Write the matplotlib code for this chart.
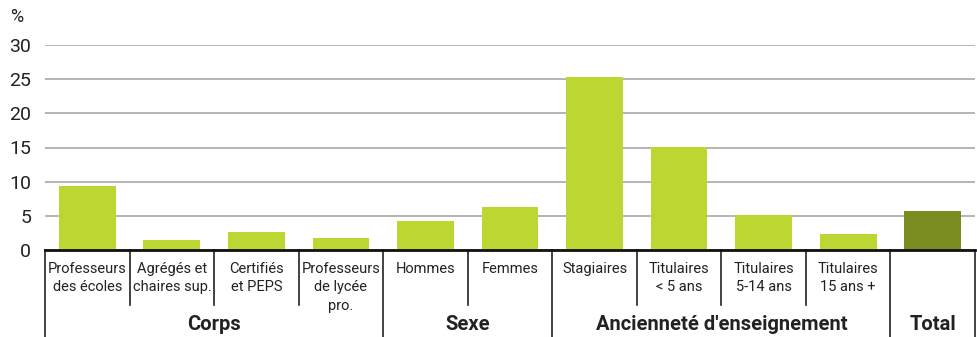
import matplotlib
matplotlib.use("Agg")
import matplotlib.pyplot as plt
from matplotlib.transforms import blended_transform_factory

plt.rcParams['font.family'] = ['Roboto', 'DejaVu Sans']

categories = [
    "Professeurs\ndes écoles", "Agrégés et\nchaires sup.", "Certifiés\net PEPS",
    "Professeurs\nde lycée\npro.", "Hommes", "Femmes", "Stagiaires",
    "Titulaires\n< 5 ans", "Titulaires\n5-14 ans", "Titulaires\n15 ans +", "",
]
values = [9.4, 1.5, 2.6, 1.8, 4.2, 6.3, 25.3, 15.1, 5.1, 2.3, 5.7]
groups = ["Corps", "Sexe", "Ancienneté d'enseignement", "Total"]
group_spans = [(0, 3), (4, 5), (6, 9), (10, 10)]
yticks = [0, 5, 10, 15, 20, 25, 30]

light = "#bdd631"
dark = "#7a8c20"
colors = [light] * (len(values) - 1) + [dark]

W, H = 978, 337
fig = plt.figure(figsize=(W / 100, H / 100), dpi=100)
ax = fig.add_axes([45 / W, 1 - 250 / H, 930 / W, 205 / H])

x = list(range(len(values)))
ax.bar(x, values, width=0.67, color=colors, zorder=3)
ax.set_xlim(-0.5, len(values) - 0.5)
ax.set_ylim(0, 30)
ax.set_yticks(yticks)
ax.set_yticklabels([str(t) for t in yticks], fontsize=14, color="#222222")
ax.tick_params(axis="y", length=0, pad=10)
ax.tick_params(axis="x", length=0, labelbottom=False)
ax.grid(axis="y", color="#b4b4b4", linewidth=1.4, zorder=0)
for s in ["left", "right", "top"]:
    ax.spines[s].set_visible(False)
ax.spines["bottom"].set_color("#111111")
ax.spines["bottom"].set_linewidth(2)
ax.spines["bottom"].set_zorder(4)

fig.text(17 / W, 1 - 17 / H, "%", fontsize=13, color="#222222", ha="center", va="center")

tr = blended_transform_factory(ax.transData, fig.transFigure)

# separators beneath the axis
inner = [0.5, 1.5, 2.5, 4.5, 6.5, 7.5, 8.5]
outer = [-0.5, 3.5, 5.5, 9.5, 10.5]
for xs in inner:
    ax.plot([xs, xs], [1 - 250 / H, 1 - 305 / H], transform=tr, color="#222222",
            lw=1.2, clip_on=False)
for xs in outer:
    ax.plot([xs, xs], [1 - 250 / H, 0], transform=tr, color="#222222",
            lw=1.2, clip_on=False)

# category labels
for xi, lab in zip(x, categories):
    ax.text(xi, 1 - 262 / H, lab, transform=tr, ha="center", va="top",
            fontsize=10.5, color="#222222", linespacing=1.4)

# group labels
for name, (a, b) in zip(groups, group_spans):
    ax.text((a + b) / 2, 1 - 325 / H, name, transform=tr, ha="center", va="center",
            fontsize=14.5, fontweight="bold", color="#222222")

fig.savefig("out.png", dpi=100)
